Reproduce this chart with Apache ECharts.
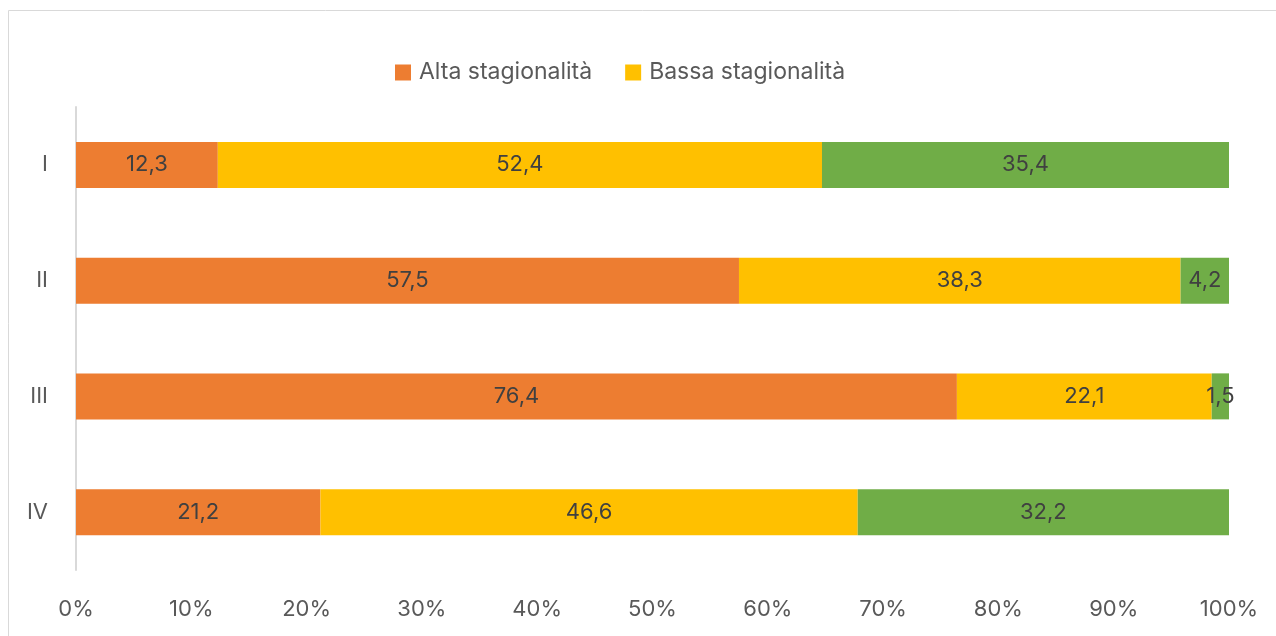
<!DOCTYPE html>
<html>
<head>
<meta charset="utf-8">
<script src="https://cdn.jsdelivr.net/npm/echarts@6/dist/echarts.min.js"></script>
<style>
html,body{margin:0;padding:0;background:#fff;}
#c{width:1276px;height:636px;}
</style>
</head>
<body>
<div id="c"></div>
<script>
var categories = ['I', 'II', 'III', 'IV'];
var alta = [12.3, 57.5, 76.4, 21.2];
var bassa = [52.4, 38.3, 22.1, 46.6];
var nessuna = [35.4, 4.2, 1.5, 32.2];
var xTicks = [0, 10, 20, 30, 40, 50, 60, 70, 80, 90, 100];

var FONT = 'Inter';
var TXT = '#595959';

function lbl(p) { return p.value.toFixed(1).replace('.', ','); }

function mk(name, data, color) {
  return {
    name: name, type: 'bar', stack: 'tot', data: data,
    barWidth: 46,
    itemStyle: { color: color },
    label: { show: true, position: 'inside', formatter: lbl, color: '#404040', fontSize: 22, fontFamily: FONT },
    emphasis: { disabled: true }
  };
}

var chart = echarts.init(document.getElementById('c'));
chart.setOption({
  animation: false,
  graphic: [{
    type: 'rect', shape: { x: 8.5, y: 10.5, width: 1400, height: 800 },
    style: { fill: 'none', stroke: '#d9d9d9', lineWidth: 1 }, silent: true, z: -1
  }],
  legend: {
    data: ['Alta stagionalità', 'Bassa stagionalità'],
    top: 56, left: 390,
    itemWidth: 16, itemHeight: 16, itemGap: 33,
    icon: 'rect',
    textStyle: { fontSize: 23, color: TXT, fontFamily: FONT, padding: [0, 0, 0, 3] }
  },
  grid: { left: 76, right: 47, top: 107, bottom: 66, containLabel: false },
  xAxis: {
    type: 'value', min: 0, max: 100, interval: 10,
    axisLine: { show: false }, axisTick: { show: false }, splitLine: { show: false },
    axisLabel: { formatter: function (v) { return v + '%'; }, fontSize: 22, color: TXT, fontFamily: FONT, margin: 28 }
  },
  yAxis: {
    type: 'category', data: categories, inverse: true,
    axisLine: { show: true, lineStyle: { color: '#d9d9d9', width: 2 } },
    axisTick: { show: false },
    axisLabel: { fontSize: 22, color: TXT, fontFamily: FONT, margin: 28 }
  },
  series: [
    mk('Alta stagionalità', alta, '#ED7D31'),
    mk('Bassa stagionalità', bassa, '#FFC000'),
    mk('Non stagionale', nessuna, '#70AD47')
  ]
});
</script>
</body>
</html>
